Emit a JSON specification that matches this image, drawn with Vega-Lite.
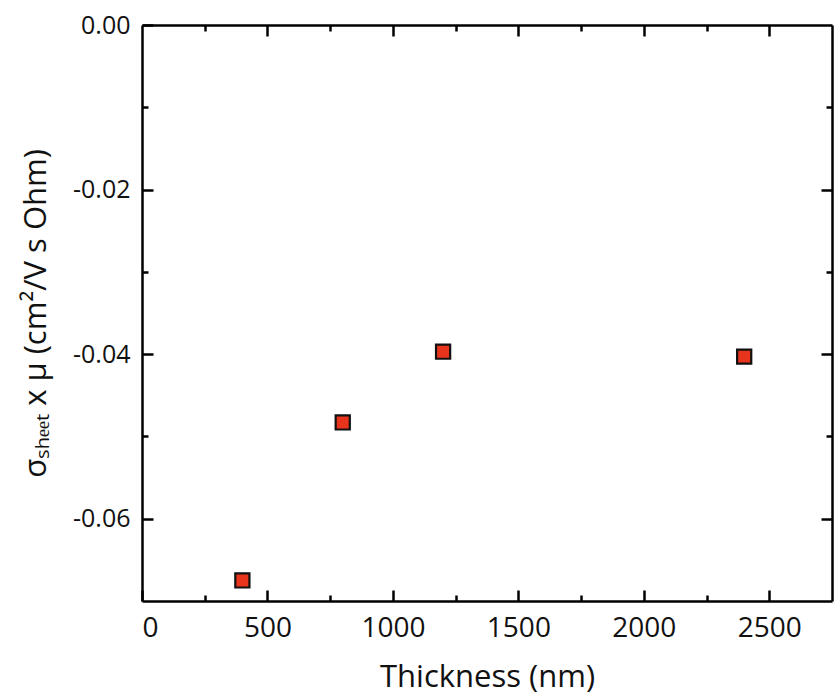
{
  "$schema": "https://vega.github.io/schema/vega-lite/v6.json",
  "autosize": "none",
  "padding": {"left": 142, "top": 25, "right": 3, "bottom": 99},
  "width": 690,
  "height": 576,
  "background": "white",
  "config": {
    "view": {"stroke": null},
    "font": "Open Sans",
    "axis": {
      "grid": false,
      "domainColor": "black",
      "domainWidth": 2.5,
      "tickColor": "black",
      "tickWidth": 2.5,
      "labelColor": "#111",
      "titleColor": "#111",
      "titleFontWeight": "normal",
      "labelFont": "Open Sans",
      "titleFont": "Open Sans"
    }
  },
  "data": {
    "values": [
      {"thickness": 400, "value": -0.0675},
      {"thickness": 800, "value": -0.0483},
      {"thickness": 1200, "value": -0.0397},
      {"thickness": 2400, "value": -0.0403}
    ]
  },
  "resolve": {"axis": {"x": "independent", "y": "independent"}},
  "layer": [
    {
      "mark": {"type": "point", "opacity": 0},
      "encoding": {
        "x": {"field": "thickness", "type": "quantitative", "scale": {"domain": [0, 2750], "nice": false, "zero": false},
          "axis": {"orient": "bottom", "values": [250, 750, 1250, 1750, 2250], "labels": false, "domain": false, "tickSize": -6, "title": null}},
        "y": {"field": "value", "type": "quantitative", "scale": {"domain": [-0.07, 0], "nice": false, "zero": false},
          "axis": {"orient": "left", "values": [-0.01, -0.03, -0.05], "labels": false, "domain": false, "tickSize": -6, "title": null}}
      }
    },
    {
      "mark": {"type": "point", "opacity": 0},
      "encoding": {
        "x": {"field": "thickness", "type": "quantitative",
          "axis": {"orient": "top", "values": [500, 1000, 1500, 2000, 2500], "labels": false, "tickSize": -11, "title": null}},
        "y": {"field": "value", "type": "quantitative",
          "axis": {"orient": "right", "values": [-0.02, -0.04, -0.06], "labels": false, "tickSize": -11, "title": null}}
      }
    },
    {
      "mark": {"type": "point", "opacity": 0},
      "encoding": {
        "x": {"field": "thickness", "type": "quantitative",
          "axis": {"orient": "top", "values": [250, 750, 1250, 1750, 2250], "labels": false, "domain": false, "tickSize": -6, "title": null}},
        "y": {"field": "value", "type": "quantitative",
          "axis": {"orient": "right", "values": [-0.01, -0.03, -0.05], "labels": false, "domain": false, "tickSize": -6, "title": null}}
      }
    },
    {
      "mark": {"type": "square", "size": 200, "fill": "#e8341c", "stroke": "#111", "strokeWidth": 2.2, "opacity": 1},
      "encoding": {
        "x": {"field": "thickness", "type": "quantitative",
          "axis": {"orient": "bottom", "values": [0, 500, 1000, 1500, 2000, 2500], "format": "d", "tickSize": -11, "labelPadding": 24, "labelFontSize": 28, "title": "Thickness (nm)", "titleFontSize": 31, "titlePadding": 20}},
        "y": {"field": "value", "type": "quantitative",
          "axis": {"orient": "left", "values": [0, -0.02, -0.04, -0.06], "labelExpr": "replace(format(datum.value, '.2f'), '\u2212', '-')", "tickSize": -11, "labelPadding": 23, "labelFontSize": 25, "title": "σₛₕₑₑₜ x μ (cm²/V s Ohm)", "titleFontSize": 31, "titlePadding": 20}}
      }
    }
  ]
}
